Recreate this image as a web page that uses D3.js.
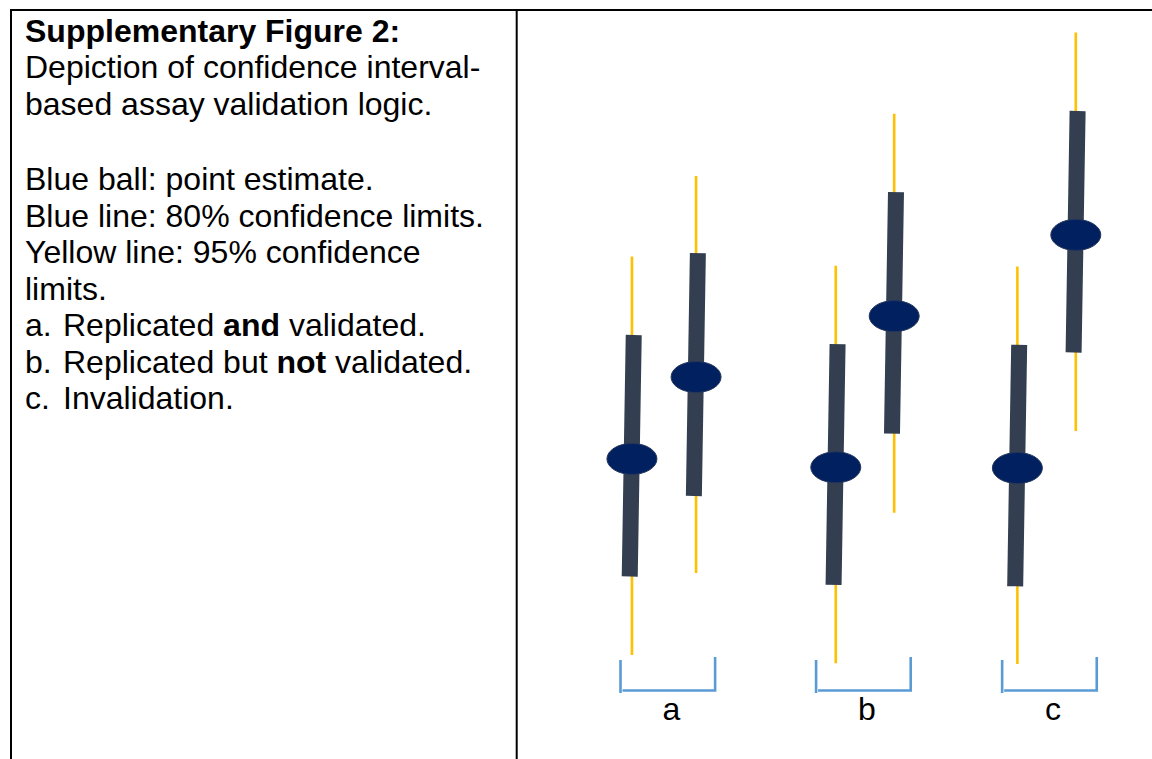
<!DOCTYPE html>
<html>
<head>
<meta charset="utf-8">
<script src="https://cdn.jsdelivr.net/npm/d3@7"></script>
<style>
  html, body { margin: 0; padding: 0; background: #ffffff; }
  svg { display: block; }
  text { font-family: "Liberation Sans", Arial, Helvetica, sans-serif; fill: #000; }
</style>
</head>
<body>
<script>
// ---- data -------------------------------------------------------------
// Each interval: horizontal placement (0-100 units), point estimate,
// 80% limits and 95% limits (0-100 value units).
const intervalGroup = ["a", "a", "b", "b", "c", "c"];
const xValue   = [18.1, 28.2, 50.2, 59.4, 78.8, 88.0];
const estimate = [37.3, 49.0, 36.1, 57.7, 36.0, 69.3];
const lower80  = [20.5, 32.0, 19.3, 40.9, 19.1, 52.5];
const upper80  = [55.0, 66.7, 53.7, 75.4, 53.6, 87.0];
const lower95  = [ 9.3, 21.0,  8.1, 29.6,  8.0, 41.3];
const upper95  = [66.2, 77.7, 64.9, 86.6, 64.8, 98.2];

// Scenario brackets under each pair
const groupLabels = ["a", "b", "c"];
const groupFrom   = [16.3, 47.1, 76.4];
const groupTo     = [31.2, 62.0, 91.3];

// Caption text
const captionTitle = "Supplementary Figure 2:";
const captionLines = [
  "Depiction of confidence interval-",
  "based assay validation logic."
];
const legendLines = [
  "Blue ball: point estimate.",
  "Blue line: 80% confidence limits.",
  "Yellow line: 95% confidence",
  "limits."
];
const listItems = [
  { tag: "a.", parts: [["Replicated ", false], ["and", true], [" validated.", false]] },
  { tag: "b.", parts: [["Replicated but ", false], ["not", true], [" validated.", false]] },
  { tag: "c.", parts: [["Invalidation.", false]] }
];

const intervals = intervalGroup.map((g, i) => ({
  group: g, x: xValue[i], est: estimate[i],
  lo80: lower80[i], hi80: upper80[i], lo95: lower95[i], hi95: upper95[i]
}));
const groups = groupLabels.map((g, i) => ({ label: g, from: groupFrom[i], to: groupTo[i] }));

// ---- layout -----------------------------------------------------------
const W = 1152, H = 759;
const svg = d3.select("body").append("svg").attr("width", W).attr("height", H);

const x = d3.scaleLinear().domain([0, 100]).range([517, 1152]);
const y = d3.scaleLinear().domain([0, 100]).range([720, 20]);

// table frame: top rule, left rule, column divider
const frame = svg.append("g").attr("stroke", "#000").attr("stroke-width", 2).attr("fill", "none");
frame.append("line").attr("x1", 10).attr("x2", W).attr("y1", 10).attr("y2", 10);
frame.append("line").attr("x1", 11).attr("x2", 11).attr("y1", 10).attr("y2", H);
frame.append("line").attr("x1", 516.7).attr("x2", 516.7).attr("y1", 10).attr("y2", H);

// ---- caption column ---------------------------------------------------
const fontSize = 32, lh = 36.5;
const cap = svg.append("g").attr("font-size", fontSize);
const textX = 25, tabX = 63;
const titleBase = 41.5, legendTop = 190;
cap.append("text").attr("x", textX).attr("y", titleBase).attr("font-weight", "bold").text(captionTitle);
captionLines.forEach((t, i) => cap.append("text").attr("x", textX).attr("y", titleBase + (i + 1) * lh).text(t));
legendLines.forEach((t, i) => cap.append("text").attr("x", textX).attr("y", legendTop + i * lh).text(t));
listItems.forEach((item, i) => {
  const t = cap.append("text").attr("y", legendTop + (legendLines.length + i) * lh);
  t.append("tspan").attr("x", textX).text(item.tag);
  item.parts.forEach(([s, bold], j) => {
    const ts = t.append("tspan").attr("font-weight", bold ? "bold" : "normal").text(s);
    if (j === 0) ts.attr("x", tabX);
  });
});

// ---- interval marks ---------------------------------------------------
const marks = svg.append("g");
const lean = 2; // small tilt of the 80% bars

// 95% limits: thin yellow line
marks.selectAll("line.ci95").data(intervals).join("line")
  .attr("class", "ci95")
  .attr("x1", d => x(d.x)).attr("x2", d => x(d.x))
  .attr("y1", d => y(d.hi95)).attr("y2", d => y(d.lo95))
  .attr("stroke", "#FFC000").attr("stroke-width", 2.6);

// 80% limits: thick slate bar
marks.selectAll("line.ci80").data(intervals).join("line")
  .attr("class", "ci80")
  .attr("x1", d => x(d.x) + lean * 0.9).attr("x2", d => x(d.x) - lean * 1.1)
  .attr("y1", d => y(d.hi80)).attr("y2", d => y(d.lo80))
  .attr("stroke", "#333F50").attr("stroke-width", 16);

// point estimate: dark blue ball
marks.selectAll("ellipse.est").data(intervals).join("ellipse")
  .attr("class", "est")
  .attr("cx", d => x(d.x)).attr("cy", d => y(d.est))
  .attr("rx", 25).attr("ry", 15.5)
  .attr("fill", "#002060").attr("stroke", "#26375a").attr("stroke-width", 1);

// ---- scenario brackets ------------------------------------------------
const br = svg.append("g").attr("stroke", "#5B9BD5").attr("stroke-width", 2.6).attr("fill", "none");
const baseY = 690.5;
groups.forEach(g => {
  const L = x(g.from), R = x(g.to);
  br.append("line").attr("x1", L).attr("x2", L).attr("y1", baseY - 30.5).attr("y2", baseY + 2.5);
  br.append("path").attr("d", `M${L + 2},${baseY}H${R}V${baseY - 33.5}`);
});
svg.append("g").attr("font-size", fontSize).attr("text-anchor", "middle")
  .selectAll("text").data(groups).join("text")
  .attr("x", d => (x(d.from) + x(d.to)) / 2 + 3.5)
  .attr("y", 720)
  .text(d => d.label);
</script>
</body>
</html>
